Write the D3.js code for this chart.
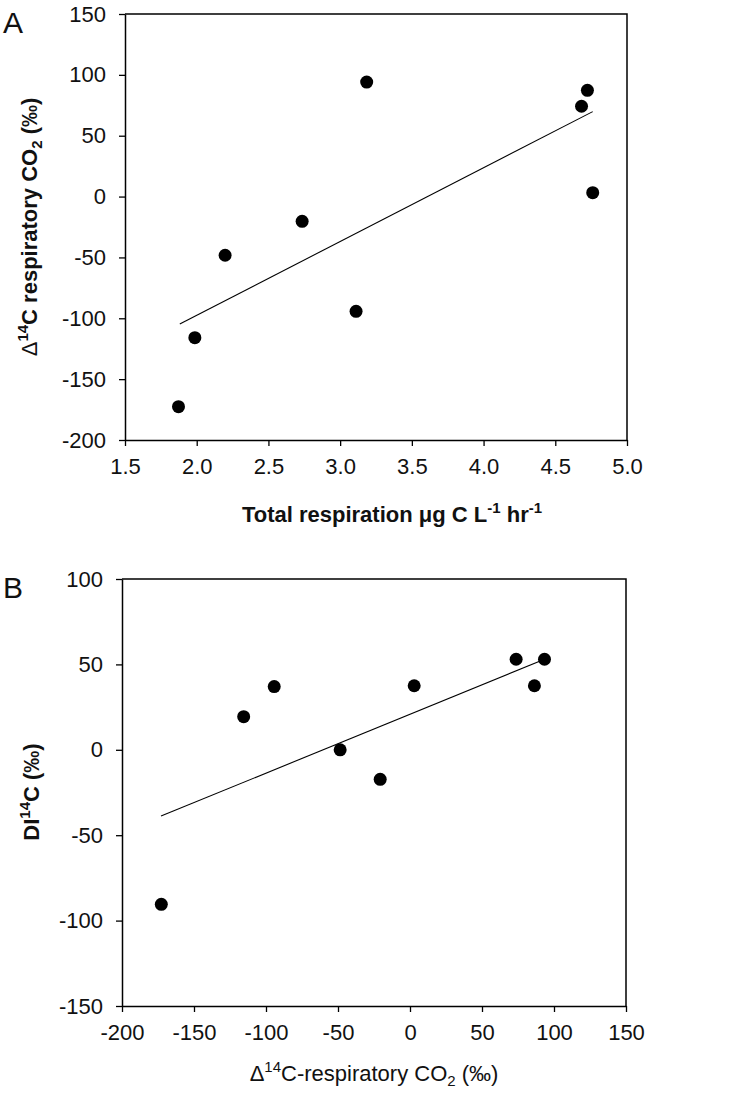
<!DOCTYPE html>
<html><head><meta charset="utf-8">
<script src="https://cdn.jsdelivr.net/npm/d3@7"></script>
<style>
body{margin:0;background:#fff;}
svg{display:block;font-family:"Liberation Sans",Arial,sans-serif;}
</style></head>
<body>
<script>
// Panel A data
const respA = [1.873, 1.987, 2.198, 2.735, 3.111, 3.185, 4.683, 4.724, 4.761];
const d14cA = [-172.6, -115.9, -48.2, -20.3, -94.3, 94.1, 74.2, 87.3, 3.2];
const trendAx = [1.882, 4.761];
const trendAy = [-104.7, 69.8];
const ticksAx = [1.5, 2.0, 2.5, 3.0, 3.5, 4.0, 4.5, 5.0];
const ticksAy = [-200, -150, -100, -50, 0, 50, 100, 150];
// Panel B data
const d14cB = [-172.7, -115.5, -94.3, -48.5, -20.7, 2.9, 73.7, 86.4, 93.4];
const di14cB = [-90.5, 19.4, 37.0, 0.0, -17.3, 37.5, 53.0, 37.5, 53.0];
const trendBx = [-172.9, 93.4];
const trendBy = [-38.8, 53.0];
const ticksBx = [-200, -150, -100, -50, 0, 50, 100, 150];
const ticksBy = [-150, -100, -50, 0, 50, 100];

const W = 754, H = 1103;
const svg = d3.select("body").append("svg").attr("width", W).attr("height", H);
const intFmt = v => d3.format("d")(v).replace("\u2212", "-");

function panel(cfg) {
  const x = d3.scaleLinear().domain(cfg.xd).range([cfg.l, cfg.r]);
  const y = d3.scaleLinear().domain(cfg.yd).range([cfg.b, cfg.t]);
  const g = svg.append("g");
  g.append("path")
    .attr("d", `M${cfg.l},${cfg.t}H${cfg.r}V${cfg.b}`)
    .attr("fill", "none").attr("stroke", "#000").attr("stroke-width", 1.5);
  const xa = g.append("g").attr("transform", `translate(0,${cfg.b})`)
    .call(d3.axisBottom(x).tickValues(cfg.xt).tickFormat(cfg.xf).tickSize(6).tickSizeOuter(0).tickPadding(cfg.xpad));
  const ya = g.append("g").attr("transform", `translate(${cfg.l},0)`)
    .call(d3.axisLeft(y).tickValues(cfg.yt).tickFormat(intFmt).tickSize(6).tickSizeOuter(0).tickPadding(13));
  [xa, ya].forEach(a => {
    a.select(".domain").attr("stroke-width", 1.5);
    a.selectAll(".tick line").attr("stroke-width", 1.3);
    a.selectAll("text").attr("font-size", 22).attr("fill", "#111")
      .attr("font-family", "'Liberation Sans', Arial, sans-serif");
  });
  g.append("line")
    .attr("x1", x(cfg.tx[0])).attr("y1", y(cfg.ty[0]))
    .attr("x2", x(cfg.tx[1])).attr("y2", y(cfg.ty[1]))
    .attr("stroke", "#000").attr("stroke-width", 1.1);
  g.selectAll("circle.pt").data(cfg.xs.map((v, i) => [v, cfg.ys[i]])).enter()
    .append("circle").attr("class", "pt")
    .attr("cx", d => x(d[0])).attr("cy", d => y(d[1])).attr("r", 6.5).attr("fill", "#000");
  svg.append("text").attr("x", 3).attr("y", cfg.t + 19).attr("font-size", 30)
    .attr("fill", "#111").text(cfg.letter);
  return {x, y};
}

panel({letter: "A", l: 125, r: 627, t: 14, b: 440, xpad: 12,
  xd: [1.5, 5.0], yd: [-200, 150], xt: ticksAx, yt: ticksAy, xf: d3.format(".1f"),
  xs: respA, ys: d14cA, tx: trendAx, ty: trendAy});
panel({letter: "B", l: 122, r: 626, t: 579, b: 1006, xpad: 12,
  xd: [-200, 150], yd: [-150, 100], xt: ticksBx, yt: ticksBy, xf: intFmt,
  xs: d14cB, ys: di14cB, tx: trendBx, ty: trendBy});

// A y title
const ayt = svg.append("text").attr("transform", "translate(37,227) rotate(-90)")
  .attr("text-anchor", "middle").attr("font-size", 22).attr("font-weight", "bold").attr("fill", "#111");
ayt.append("tspan").attr("font-weight", "normal").text("\u0394");
ayt.append("tspan").attr("font-size", 15).attr("dy", -9).text("14");
ayt.append("tspan").attr("dy", 9).text("C respiratory CO");
ayt.append("tspan").attr("font-size", 15).attr("dy", 5).text("2");
ayt.append("tspan").attr("dy", -5).text(" (\u2030)");
// A x title
const axt = svg.append("text").attr("x", 392).attr("y", 522)
  .attr("text-anchor", "middle").attr("font-size", 22).attr("font-weight", "bold").attr("fill", "#111");
axt.append("tspan").text("Total respiration \u03bcg C L");
axt.append("tspan").attr("font-size", 15).attr("dy", -9).text("-1");
axt.append("tspan").attr("dy", 9).text(" hr");
axt.append("tspan").attr("font-size", 15).attr("dy", -9).text("-1");
// B y title
const byt = svg.append("text").attr("transform", "translate(39,792) rotate(-90)")
  .attr("text-anchor", "middle").attr("font-size", 22).attr("font-weight", "bold").attr("fill", "#111");
byt.append("tspan").text("DI");
byt.append("tspan").attr("font-size", 15).attr("dy", -9).text("14");
byt.append("tspan").attr("dy", 9).text("C (\u2030)");
// B x title
const bxt = svg.append("text").attr("x", 374).attr("y", 1081)
  .attr("text-anchor", "middle").attr("font-size", 22).attr("fill", "#111");
bxt.append("tspan").text("\u0394");
bxt.append("tspan").attr("font-size", 15).attr("dy", -9).text("14");
bxt.append("tspan").attr("dy", 9).text("C-respiratory CO");
bxt.append("tspan").attr("font-size", 15).attr("dy", 5).text("2");
bxt.append("tspan").attr("dy", -5).text(" (\u2030)");
</script>
</body></html>
